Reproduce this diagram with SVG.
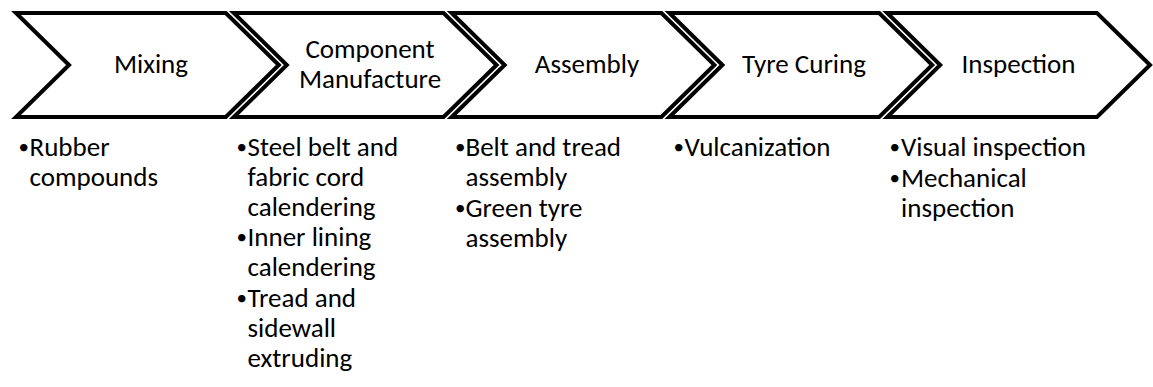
<svg xmlns="http://www.w3.org/2000/svg" width="1153" height="387" viewBox="0 0 1153 387">
<style>
.chev{fill:#fff;stroke:#000;stroke-width:4;stroke-linejoin:miter;stroke-miterlimit:10}
text{font-family:Carlito,Calibri,Lato,"Liberation Sans",sans-serif;font-size:27px;fill:#000}
.lbl{text-anchor:middle}
.dot{font-size:21px}
</style>
<rect width="1153" height="387" fill="#fff"/>
<g id="connectors"></g>
<g id="node-mixing">
<path class="chev" d="M16,13 H225.8 L278.8,65 L225.8,117 H16 L69,65 Z"/>
<text class="lbl" x="151" y="73">Mixing</text>
<text class="dot" x="18.5" y="154">•</text>
<text x="29.5" y="156">Rubber</text>
<text x="29.5" y="186">compounds</text>
</g>
<g id="node-component">
<path class="chev" d="M233.8,13 H443.6 L496.6,65 L443.6,117 H233.8 L286.8,65 Z"/>
<text class="lbl" x="370" y="58">Component</text>
<text class="lbl" x="370" y="88">Manufacture</text>
<text class="dot" x="236.5" y="154">•</text>
<text x="247.5" y="156">Steel belt and</text>
<text x="247.5" y="186">fabric cord</text>
<text x="247.5" y="216">calendering</text>
<text class="dot" x="236.5" y="244">•</text>
<text x="247.5" y="246">Inner lining</text>
<text x="247.5" y="276">calendering</text>
<text class="dot" x="236.5" y="305">•</text>
<text x="247.5" y="307">Tread and</text>
<text x="247.5" y="337">sidewall</text>
<text x="247.5" y="367">extruding</text>
</g>
<g id="node-assembly">
<path class="chev" d="M451.6,13 H661.4 L714.4,65 L661.4,117 H451.6 L504.6,65 Z"/>
<text class="lbl" x="587" y="73">Assembly</text>
<text class="dot" x="455" y="154">•</text>
<text x="465.5" y="156">Belt and tread</text>
<text x="465.5" y="186">assembly</text>
<text class="dot" x="455" y="214.5">•</text>
<text x="465.5" y="216.5">Green tyre</text>
<text x="465.5" y="246.5">assembly</text>
</g>
<g id="node-curing">
<path class="chev" d="M669.4,13 H879.2 L932.2,65 L879.2,117 H669.4 L722.4,65 Z"/>
<text class="lbl" x="804" y="73">Tyre Curing</text>
<text class="dot" x="673.5" y="154">•</text>
<text x="684.5" y="156">Vulcanization</text>
</g>
<g id="node-inspection">
<path class="chev" d="M887.2,13 H1097 L1150,65 L1097,117 H887.2 L940.2,65 Z"/>
<text class="lbl" x="1018.5" y="73">Inspection</text>
<text class="dot" x="889.5" y="154">•</text>
<text x="901" y="156">Visual inspection</text>
<text class="dot" x="889.5" y="184.5">•</text>
<text x="901" y="186.5">Mechanical</text>
<text x="901" y="216.5">inspection</text>
</g>
</svg>
